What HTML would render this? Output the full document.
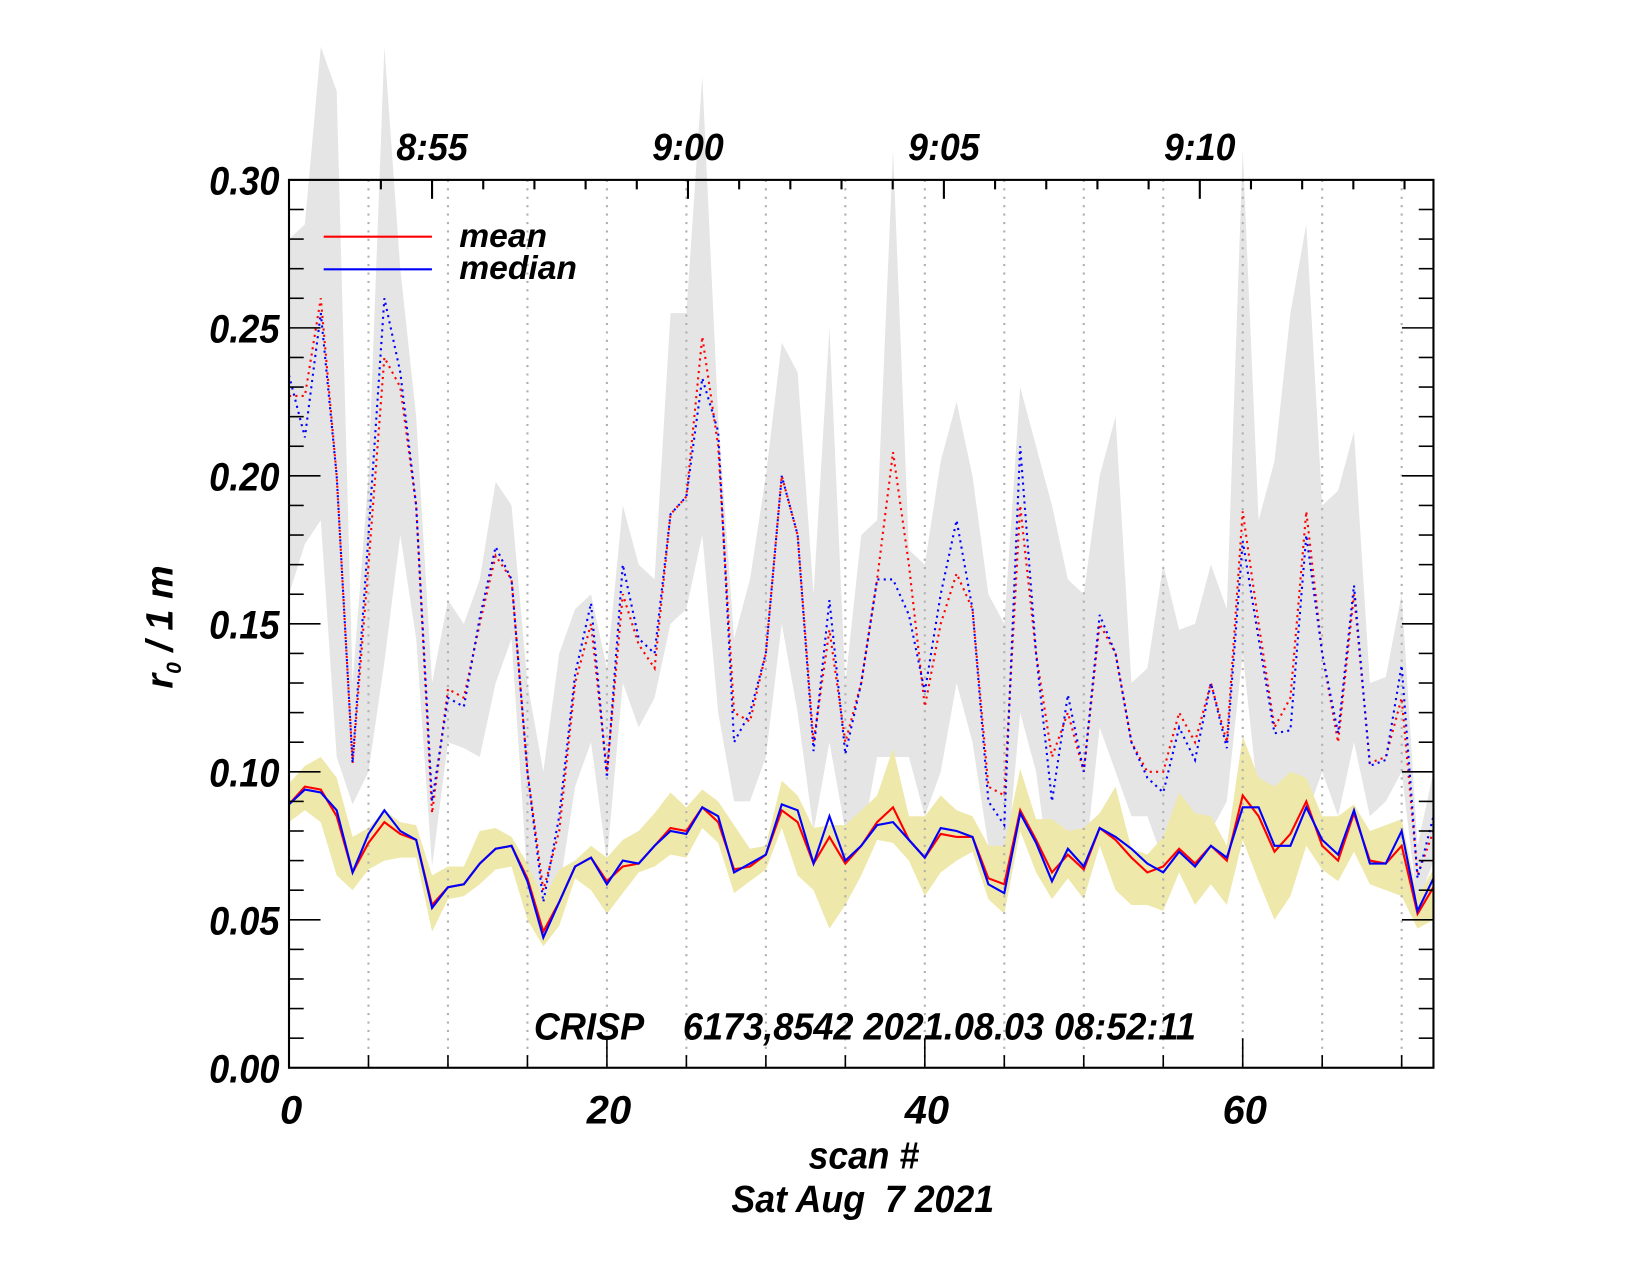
<!DOCTYPE html>
<html><head><meta charset="utf-8">
<style>
html,body{margin:0;padding:0;background:#fff;}
svg{display:block;}
text{font-family:"Liberation Sans",sans-serif;font-weight:bold;font-style:italic;fill:#000;white-space:pre;}
</style></head>
<body>
<svg id="chart" width="1651" height="1275" viewBox="0 0 1571 1212" preserveAspectRatio="none" xmlns="http://www.w3.org/2000/svg">
<g id="bands"></g>
<g id="grid"></g>
<g id="lines"></g>
<g id="axes"></g>
</svg>
<script>
const scans = Array.from({length:73},(_,i)=>i);
const grayUpper=[0.28,0.285,0.345,0.33,0.13,0.20,0.345,0.27,0.22,0.13,0.158,0.150,0.165,0.198,0.19,0.13,0.10,0.14,0.155,0.16,0.135,0.19,0.17,0.165,0.255,0.255,0.335,0.22,0.145,0.165,0.20,0.245,0.235,0.16,0.25,0.13,0.18,0.185,0.31,0.175,0.17,0.205,0.225,0.20,0.16,0.15,0.23,0.21,0.19,0.165,0.16,0.2,0.22,0.13,0.135,0.17,0.148,0.15,0.17,0.155,0.31,0.185,0.205,0.255,0.285,0.19,0.195,0.215,0.13,0.132,0.16,0.075,0.10];
const grayLower=[0.16,0.177,0.185,0.105,0.089,0.10,0.137,0.18,0.145,0.068,0.11,0.108,0.105,0.13,0.145,0.063,0.042,0.06,0.095,0.11,0.07,0.13,0.115,0.125,0.15,0.155,0.18,0.12,0.09,0.09,0.105,0.15,0.12,0.08,0.11,0.08,0.075,0.105,0.105,0.105,0.085,0.10,0.13,0.11,0.075,0.06,0.12,0.10,0.06,0.07,0.065,0.115,0.10,0.085,0.085,0.07,0.075,0.08,0.08,0.09,0.14,0.09,0.08,0.07,0.085,0.1,0.085,0.11,0.085,0.09,0.1,0.055,0.07];
const dotMean=[0.227,0.227,0.26,0.20,0.103,0.17,0.24,0.23,0.19,0.086,0.128,0.125,0.15,0.173,0.165,0.10,0.06,0.08,0.13,0.15,0.10,0.16,0.143,0.135,0.187,0.193,0.247,0.21,0.12,0.117,0.14,0.20,0.18,0.11,0.148,0.11,0.13,0.165,0.208,0.17,0.122,0.15,0.167,0.155,0.095,0.092,0.19,0.14,0.105,0.12,0.10,0.15,0.14,0.11,0.10,0.10,0.12,0.11,0.13,0.11,0.188,0.15,0.115,0.125,0.188,0.14,0.11,0.16,0.103,0.105,0.125,0.065,0.08];
const dotMedian=[0.234,0.213,0.255,0.20,0.103,0.18,0.26,0.235,0.19,0.09,0.125,0.122,0.152,0.176,0.165,0.10,0.056,0.085,0.133,0.157,0.098,0.17,0.145,0.14,0.187,0.193,0.233,0.215,0.11,0.12,0.14,0.20,0.18,0.107,0.158,0.106,0.13,0.165,0.165,0.153,0.127,0.16,0.185,0.155,0.09,0.082,0.21,0.14,0.09,0.126,0.10,0.153,0.14,0.11,0.098,0.093,0.115,0.104,0.13,0.108,0.178,0.145,0.113,0.114,0.18,0.14,0.113,0.163,0.102,0.104,0.136,0.064,0.085];
const yelUpper=[0.096,0.102,0.105,0.098,0.078,0.081,0.087,0.083,0.082,0.065,0.068,0.068,0.08,0.081,0.078,0.069,0.057,0.067,0.07,0.075,0.071,0.077,0.08,0.086,0.093,0.088,0.094,0.090,0.082,0.074,0.075,0.097,0.092,0.081,0.082,0.082,0.087,0.092,0.108,0.085,0.085,0.092,0.087,0.085,0.075,0.075,0.101,0.084,0.084,0.08,0.081,0.086,0.095,0.074,0.072,0.078,0.093,0.086,0.085,0.075,0.112,0.098,0.095,0.100,0.098,0.085,0.085,0.089,0.08,0.082,0.084,0.058,0.067];
const yelLower=[0.083,0.087,0.083,0.065,0.060,0.067,0.070,0.071,0.071,0.046,0.057,0.058,0.062,0.067,0.068,0.05,0.041,0.048,0.064,0.060,0.052,0.059,0.066,0.068,0.072,0.071,0.081,0.076,0.059,0.063,0.067,0.081,0.065,0.06,0.047,0.055,0.065,0.077,0.076,0.070,0.058,0.066,0.070,0.073,0.057,0.052,0.080,0.066,0.057,0.064,0.057,0.075,0.060,0.055,0.055,0.053,0.066,0.055,0.062,0.055,0.077,0.063,0.050,0.058,0.075,0.067,0.063,0.073,0.062,0.06,0.058,0.047,0.050];
const solMean=[0.089,0.095,0.094,0.085,0.066,0.076,0.083,0.079,0.077,0.055,0.061,0.062,0.069,0.074,0.075,0.064,0.046,0.056,0.068,0.071,0.063,0.068,0.069,0.075,0.081,0.080,0.088,0.083,0.067,0.068,0.072,0.087,0.083,0.069,0.078,0.069,0.075,0.083,0.088,0.077,0.071,0.079,0.078,0.078,0.064,0.062,0.087,0.077,0.066,0.072,0.067,0.081,0.077,0.071,0.066,0.068,0.074,0.069,0.075,0.070,0.092,0.085,0.073,0.079,0.090,0.075,0.070,0.086,0.070,0.069,0.075,0.052,0.061];
const solMedian=[0.089,0.094,0.093,0.087,0.066,0.079,0.087,0.080,0.077,0.054,0.061,0.062,0.069,0.074,0.075,0.063,0.044,0.056,0.068,0.071,0.062,0.070,0.069,0.075,0.080,0.079,0.088,0.085,0.066,0.069,0.072,0.089,0.087,0.069,0.085,0.070,0.075,0.082,0.083,0.077,0.071,0.081,0.080,0.078,0.062,0.059,0.086,0.076,0.063,0.074,0.068,0.081,0.078,0.074,0.069,0.066,0.073,0.068,0.075,0.071,0.088,0.088,0.075,0.075,0.088,0.077,0.072,0.087,0.069,0.069,0.080,0.053,0.064];
const yTicks=[0.00,0.05,0.10,0.15,0.20,0.25,0.30];
const yTickLabels=["0.00","0.05","0.10","0.15","0.20","0.25","0.30"];
const xTicks=[0,20,40,60];
const timeTicks=[9.0,25.1,41.2,57.3];
const timeLabels=["8:55","9:00","9:05","9:10"];

const L=275,R=1364,T=171,B=1015,XMAX=72,YMAX=0.30;
const X=v=>L+(R-L)*v/XMAX;
const Y=v=>B-(B-T)*v/YMAX;
const NS="http://www.w3.org/2000/svg";
function mk(tag,attrs,parent){const e=document.createElementNS(NS,tag);for(const k in attrs)e.setAttribute(k,attrs[k]);parent.appendChild(e);return e;}
const gB=document.getElementById('bands'),gG=document.getElementById('grid'),gL=document.getElementById('lines'),gA=document.getElementById('axes');

function band(up,lo,fill,name){
  let d='M'+scans.map(i=>X(i)+','+Y(up[i])).join('L');
  d+='L'+scans.slice().reverse().map(i=>X(i)+','+Y(lo[i])).join('L')+'Z';
  const p=mk('path',{d:d,fill:fill,stroke:'none'},gB);
  
  
}
band(grayUpper,grayLower,'#e5e5e5','gray-range-band');
band(yelUpper,yelLower,'#eee8aa','yellow-range-band');

for(let s=5;s<XMAX;s+=5){
  const l=mk('line',{x1:X(s),x2:X(s),y1:T,y2:B,stroke:'#b0b0b0','stroke-width':2,'stroke-dasharray':'2,6'},gG);
  
  
}

function line(arr,color,dash,name){
  const p=mk('polyline',{points:scans.map(i=>X(i)+','+Y(arr[i])).join(' '),fill:'none',stroke:color,'stroke-width':2,'stroke-linejoin':'miter'},gL);
  if(dash)p.setAttribute('stroke-dasharray',dash);
  
  
}
line(dotMean,'#ff0000','2,4','mean-dotted-line');
line(dotMedian,'#0000ff','2,4','median-dotted-line');
line(solMean,'#ff0000',null,'mean-solid-line');
line(solMedian,'#0000ff',null,'median-solid-line');

const fr=mk('rect',{x:L,y:T,width:R-L,height:B-T,fill:'none',stroke:'#000','stroke-width':2},gA);


for(let k=0;k<=30;k++){
  const v=k/100, major=(k%5===0), len=major?30:14;
  mk('line',{x1:L,x2:L+len,y1:Y(v),y2:Y(v),stroke:'#000','stroke-width':1.5},gA);
  mk('line',{x1:R,x2:R-len,y1:Y(v),y2:Y(v),stroke:'#000','stroke-width':1.5},gA);
}
yTicks.forEach((v,i)=>{
  const t=mk('text',{x:266,y:Y(v)+14,'text-anchor':'end','font-size':38,textLength:67,lengthAdjust:'spacingAndGlyphs'},gA);
  t.textContent=yTickLabels[i];
  
  
});
for(let s=0;s<=XMAX;s+=5){
  const major=(s%20===0), len=major?28:12;
  mk('line',{x1:X(s),x2:X(s),y1:B,y2:B-len,stroke:'#000','stroke-width':1.5},gA);
}
xTicks.forEach(v=>{
  const t=mk('text',{x:X(v)+2,y:1068,'text-anchor':'middle','font-size':38},gA);
  t.textContent=String(v);
  
  
});
const minStep=(timeTicks[1]-timeTicks[0])/5;
for(let m=-1;m<=21;m++){
  const s=timeTicks[0]+m*minStep; if(s<0||s>XMAX) continue;
  const major=(m%5===0), len=major?18:9;
  mk('line',{x1:X(s),x2:X(s),y1:T,y2:T+len,stroke:'#000','stroke-width':2},gA);
}
timeTicks.forEach((s,i)=>{
  const t=mk('text',{x:X(s),y:152,'text-anchor':'middle','font-size':36,textLength:68,lengthAdjust:'spacingAndGlyphs'},gA);
  t.textContent=timeLabels[i];
  
  
});
</script>
<svg style="position:absolute;left:0;top:0" width="1651" height="1275" viewBox="0 0 1571 1212" preserveAspectRatio="none" xmlns="http://www.w3.org/2000/svg">
<g>
<line x1="308" x2="411" y1="225" y2="225" stroke="#ff0000" stroke-width="2"/>
<text x="437" y="235" font-size="32">mean</text>
<line x1="308" x2="411" y1="256" y2="256" stroke="#0000ff" stroke-width="2"/>
<text x="437" y="265" font-size="32">median</text>
</g>
<text x="508" y="988" font-size="36" textLength="630" lengthAdjust="spacingAndGlyphs" xml:space="preserve">CRISP    6173,8542 2021.08.03 08:52:11</text>
<text x="822" y="1111" text-anchor="middle" font-size="36" textLength="105" lengthAdjust="spacingAndGlyphs">scan #</text>
<text x="821" y="1152" text-anchor="middle" font-size="36" textLength="250" lengthAdjust="spacingAndGlyphs" xml:space="preserve">Sat Aug  7 2021</text>
<text transform="translate(164,596) rotate(-90)" text-anchor="middle" font-size="36">r<tspan font-size="20" dy="8">0</tspan><tspan dy="-8"> / 1 m</tspan></text>
</svg>
</body></html>
